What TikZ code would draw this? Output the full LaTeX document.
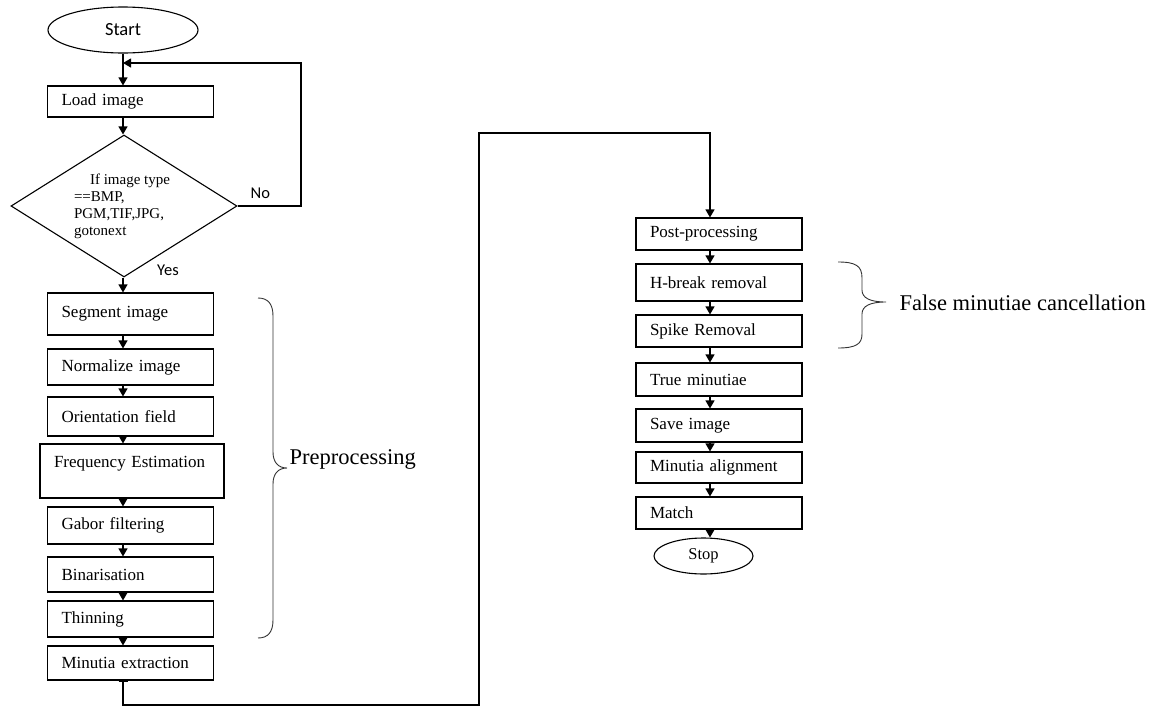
\documentclass[tikz,border=0pt]{standalone}
\usepackage{fontspec}
\setmainfont{Liberation Serif}
\newfontfamily\calfont{Carlito}
\usepackage{tikz}
\usetikzlibrary{arrows.meta}
\usetikzlibrary{shapes.geometric}
\usetikzlibrary{positioning}

\begin{document}
\begin{tikzpicture}[x=1pt, y=-1pt, line width=1.1pt,
    box/.style={draw, rectangle, minimum height=#1, text width=138pt, inner xsep=14pt,
        inner ysep=0pt, align=left, font=\fontsize{17}{19}\selectfont},
    box/.default=32pt,
    term/.style={draw, ellipse, inner sep=0pt},
    flow/.style={-{Triangle[length=8pt,width=9pt]}},
    lbl/.style={font=\calfont\fontsize{16.5}{18}\selectfont},
    bracket/.style={line width=0.9pt, black!80},
    group/.style={anchor=west, inner sep=0pt, font=\fontsize{22.5}{24}\selectfont}]
    \useasboundingbox (0,0) rectangle (1151,707);
    \coordinate (spineL) at (123,0);
    \coordinate (spineR) at (710,0);

    % left column
    \node [term, minimum width=150pt, minimum height=46pt,
        font=\calfont\fontsize{18.5}{20}\selectfont] (start) at (123,30) {Start};
    \node [box=31pt] (load) at (130.5,101.5) {Load image};
    \node [draw, diamond, inner sep=0pt, minimum width=226pt, minimum height=142pt,
        label={[align=left, xshift=-2pt, font=\fontsize{15}{17}\selectfont]center:{\hspace{16pt}If image type\\==BMP,\\PGM,TIF,JPG,\\gotonext}}]
        (dec) at (124,206) {};
    \node [box=42pt] (seg) at (130.5,314) {Segment image};
    \node [box=36pt] (norm) at (130.5,367) {Normalize image};
    \node [box=39pt] (orient) at (130.5,416.5) {Orientation field};
    \node [box=54pt, text width=156pt, text depth=19pt] (freq) at (132,471) {Frequency Estimation};
    \node [box=37pt] (gabor) at (130.5,525.5) {Gabor filtering};
    \node [box=35pt] (binar) at (130.5,574.5) {Binarisation};
    \node [box=36pt] (thin) at (130.5,619) {Thinning};
    \node [box=34pt] (mext) at (130.5,663) {Minutia extraction};
    \node [lbl] (yes) at (168,270) {Yes};

    % right column
    \node [box=32pt] (post) at (719,234) {Post-processing};
    \node [box=37pt] (hbreak) at (719,282.5) {H-break removal};
    \node [box=32pt] (spike) at (719,331) {Spike Removal};
    \node [box=33pt] (truem) at (719,379.5) {True minutiae};
    \node [box=33pt] (save) at (719,425.5) {Save image};
    \node [box=31pt] (align) at (719,467.5) {Minutia alignment};
    \node [box=32pt] (match) at (719,513) {Match};
    \node [term, minimum width=99pt, minimum height=36pt,
        font=\fontsize{16.5}{18}\selectfont] (stop) at (703.5,556) {Stop};

    \coordinate (join) at (123,63);
    \coordinate (loopc) at (301,63);
    \coordinate (c1) at (479,705);
    \coordinate (c2) at (479,133);

    \path[flow]
        (start.south -| spineL) edge (load.north -| spineL)
        (load.south -| spineL) edge (dec.north -| spineL)
        (dec.south -| spineL) edge (seg.north -| spineL)
        (seg.south -| spineL) edge (norm.north -| spineL)
        (norm.south -| spineL) edge (orient.north -| spineL)
        (orient.south -| spineL) edge (freq.north -| spineL)
        (freq.south -| spineL) edge (gabor.north -| spineL)
        (gabor.south -| spineL) edge (binar.north -| spineL)
        (binar.south -| spineL) edge (thin.north -| spineL)
        (thin.south -| spineL) edge (mext.north -| spineL)
        (post.south -| spineR) edge (hbreak.north -| spineR)
        (hbreak.south -| spineR) edge (spike.north -| spineR)
        (spike.south -| spineR) edge (truem.north -| spineR)
        (truem.south -| spineR) edge (save.north -| spineR)
        (save.south -| spineR) edge (align.north -| spineR)
        (align.south -| spineR) edge (match.north -| spineR)
        (match.south -| spineR) edge (stop.north -| spineR);

    \draw[flow] (dec.east) -| (loopc) node [lbl, pos=0.18, above, yshift=4pt] {No} -- (join);
    \draw[arrows={Bar[width=9pt,line width=0.8pt]-Triangle[length=8pt,width=9pt]}]
        (mext.south -| spineL) |- (c1) -- (c2) -| (post.north -| spineR);

    % brackets
    \draw[bracket] (258,298) .. controls (268,298) and (273,304) .. (273,316) -- (273,452)
        .. controls (273,462) and (278,468) .. (287,468)
        .. controls (278,468) and (273,474) .. (273,484) -- (273,620)
        .. controls (273,632) and (268,638) .. (258,638);
    \node [group] (pre) at (289,459) {Preprocessing};
    \draw[bracket] (838,262) .. controls (856,262) and (862,266) .. (862,278) -- (862,290)
        .. controls (862,298) and (870,302) .. (886,302)
        .. controls (870,302) and (862,306) .. (862,314) -- (862,334)
        .. controls (862,344) and (856,348) .. (838,348);
    \node [group] (fmc) at (899,303) {False minutiae cancellation};
\end{tikzpicture}
\end{document}
